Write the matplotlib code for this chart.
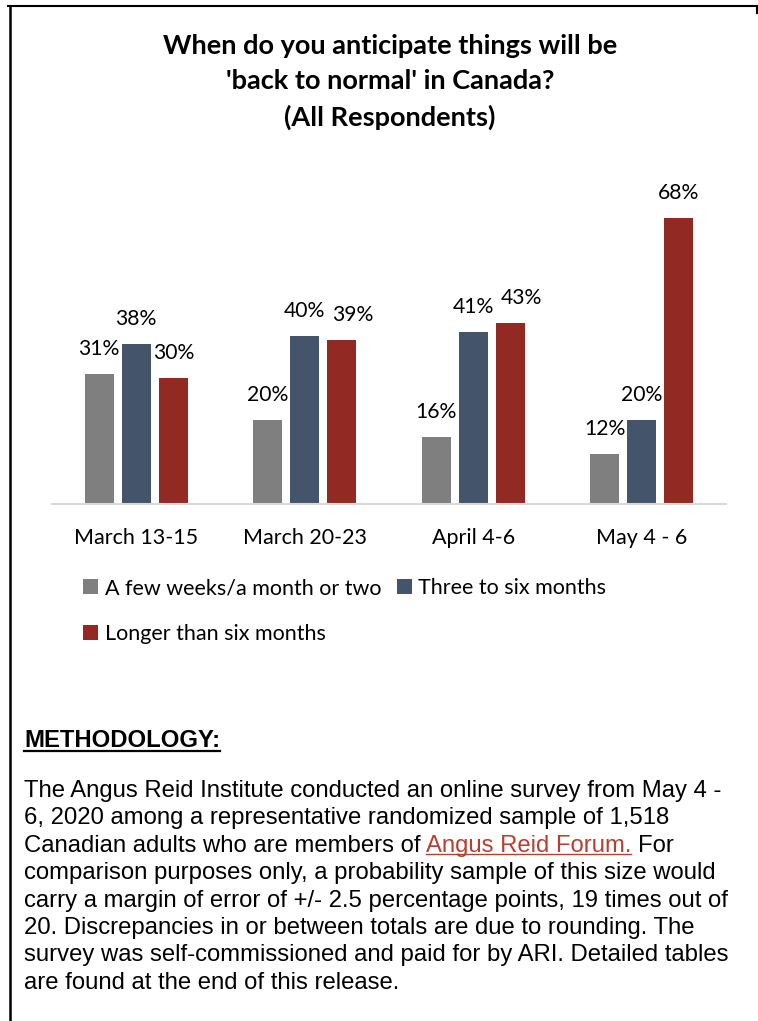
import numpy as np
import matplotlib
matplotlib.use('Agg')
from matplotlib import pyplot as plt
from matplotlib.lines import Line2D

# data
periods = ['March 13-15', 'March 20-23', 'April 4-6', 'May 4 - 6']
series = ['A few weeks/a month or two', 'Three to six months', 'Longer than six months']
few_weeks = [31, 20, 16, 12]
three_six = [38, 40, 41, 20]
longer = [30, 39, 43, 68]

title = "When do you anticipate things will be\n'back to normal' in Canada?\n(All Respondents)"
method_head = 'METHODOLOGY:'
method_lines = [
	'The Angus Reid Institute conducted an online survey from May 4 -',
	'6, 2020 among a representative randomized sample of 1,518',
	None,  # line with the link, built below
	'comparison purposes only, a probability sample of this size would',
	'carry a margin of error of +/- 2.5 percentage points, 19 times out of',
	'20. Discrepancies in or between totals are due to rounding. The',
	'survey was self-commissioned and paid for by ARI. Detailed tables',
	'are found at the end of this release.',
]
link_pre = 'Canadian adults who are members of'
link_txt = 'Angus Reid Forum.'
link_post = 'For'

colors = ['#7F7F7F', '#44546A', '#922A23']
link_color = '#B5402F'

W, H = 758, 1021
def fx(px): return px / W
def fy(py): return 1 - py / H

plt.rcParams['font.family'] = ['Lato', 'DejaVu Sans']
fs = 15.2
fs_cat = 15.5

fig = plt.figure(figsize=(W / 100, H / 100), dpi=100)
fig.patch.set_facecolor('white')

fig.text(fx(390), fy(82), title, ha='center', va='center', fontsize=19.5,
	fontweight='bold', linespacing=1.55)

ax = fig.add_axes([fx(52), fy(504), 674 / W, 294 / H])
x = np.arange(len(periods))
offs = [-0.22, 0, 0.22]
bw = 0.172
conts = []
for vals, off, c, name in zip([few_weeks, three_six, longer], offs, colors, series):
	b = ax.bar(x + off, vals, bw, color=c, label=name, zorder=2)
	conts.append(b)
	for xi, v in zip(x, vals):
		dx = 0
		if name == series[2] and v in (39, 43):
			dx = 8
		ax.annotate('%d%%' % v, (xi + off, v), xytext=(dx, 18), textcoords='offset points',
			ha='center', va='center', fontsize=fs, annotation_clip=False)

ax.set_xlim(-0.5, 3.5)
ax.set_ylim(0, 70)
ax.set_yticks([])
ax.set_xticks(x)
ax.set_xticklabels(periods, fontsize=fs_cat)
ax.tick_params(axis='x', length=0, pad=17)
for s in ['left', 'right', 'top']:
	ax.spines[s].set_visible(False)
ax.spines['bottom'].set_color('#D9D9D9')
ax.spines['bottom'].set_linewidth(1.5)
ax.patch.set_alpha(0)

fig.legend(handles=[conts[0], conts[2], conts[1]], ncol=2, loc='upper left',
	bbox_to_anchor=(fx(83), fy(578)), frameon=False, borderpad=0, borderaxespad=0,
	handlelength=0.7, handleheight=0.7, handletextpad=0.3, columnspacing=0.72,
	labelspacing=1.22, fontsize=fs_cat)

# methodology block
mfont = dict(family='Liberation Sans', fontsize=17.2, va='baseline')
r = fig.canvas.get_renderer()
t = fig.text(fx(24), fy(747), method_head, fontweight='bold', **mfont)
bb = t.get_window_extent(r)
fig.add_artist(Line2D([fx(24), bb.x1 / W], [fy(751), fy(751)], color='black', lw=1.6))

def width(s):
	tt = fig.text(0, 0, s, **mfont)
	w = tt.get_window_extent(r).width
	tt.remove()
	return w

x0 = 24
for i, line in enumerate(method_lines):
	y = 797 + i * 27.4
	if line is not None:
		fig.text(fx(x0), fy(y), line, **mfont)
		continue
	fig.text(fx(x0), fy(y), link_pre, **mfont)
	lx = x0 + width(link_pre + ' A') - width('A')
	lt = fig.text(fx(lx), fy(y), link_txt, color=link_color, **mfont)
	lb = lt.get_window_extent(r)
	fig.add_artist(Line2D([fx(lx), fx(lx + lb.width)], [fy(y + 2.5), fy(y + 2.5)],
		color=link_color, lw=1.0))
	px = x0 + width(link_pre + ' ' + link_txt + ' F') - width('F')
	fig.text(fx(px), fy(y), link_post, **mfont)

# frame
fig.add_artist(Line2D([fx(8), fx(757)], [fy(6.5), fy(6.5)], color='black', lw=1.5))
fig.add_artist(Line2D([fx(9.5), fx(9.5)], [fy(6), fy(1021)], color='black', lw=1.8))
fig.add_artist(Line2D([fx(756.5), fx(756.5)], [fy(6), fy(13)], color='black', lw=1.5))

plt.savefig('out.png', dpi=100)
